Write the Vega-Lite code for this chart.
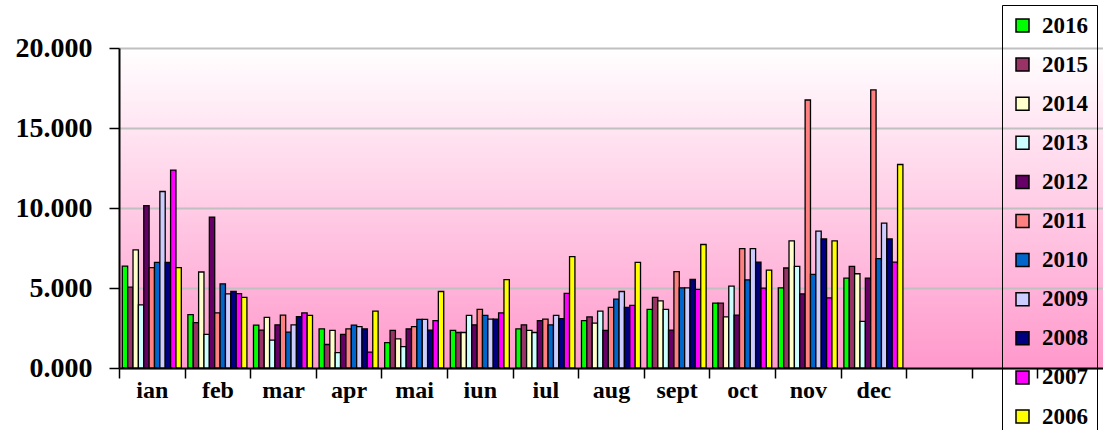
{
  "$schema": "https://vega.github.io/schema/vega-lite/v6.json",
  "width": 984,
  "height": 320,
  "autosize": {"type": "none"},
  "padding": {"left": 119, "top": 48, "right": 0, "bottom": 62},
  "background": "white",
  "view": {
    "stroke": null,
    "fill": {"gradient": "linear", "x1": 0, "y1": 0, "x2": 0, "y2": 1,
      "stops": [{"offset": 0, "color": "#ffffff"}, {"offset": 1, "color": "#ff99cc"}]}
  },
  "config": {"font": "Liberation Serif"},
  "data": {"values": [
    {"m":"ian","yr":"2016","v":6.37},{"m":"ian","yr":"2015","v":5.05},{"m":"ian","yr":"2014","v":7.38},{"m":"ian","yr":"2013","v":3.94},{"m":"ian","yr":"2012","v":10.15},{"m":"ian","yr":"2011","v":6.27},{"m":"ian","yr":"2010","v":6.6},{"m":"ian","yr":"2009","v":11.03},{"m":"ian","yr":"2008","v":6.6},{"m":"ian","yr":"2007","v":12.37},{"m":"ian","yr":"2006","v":6.27},
    {"m":"feb","yr":"2016","v":3.33},{"m":"feb","yr":"2015","v":2.83},{"m":"feb","yr":"2014","v":6.0},{"m":"feb","yr":"2013","v":2.1},{"m":"feb","yr":"2012","v":9.43},{"m":"feb","yr":"2011","v":3.44},{"m":"feb","yr":"2010","v":5.26},{"m":"feb","yr":"2009","v":4.63},{"m":"feb","yr":"2008","v":4.78},{"m":"feb","yr":"2007","v":4.65},{"m":"feb","yr":"2006","v":4.42},
    {"m":"mar","yr":"2016","v":2.68},{"m":"mar","yr":"2015","v":2.37},{"m":"mar","yr":"2014","v":3.17},{"m":"mar","yr":"2013","v":1.74},{"m":"mar","yr":"2012","v":2.7},{"m":"mar","yr":"2011","v":3.31},{"m":"mar","yr":"2010","v":2.24},{"m":"mar","yr":"2009","v":2.7},{"m":"mar","yr":"2008","v":3.21},{"m":"mar","yr":"2007","v":3.44},{"m":"mar","yr":"2006","v":3.29},
    {"m":"apr","yr":"2016","v":2.45},{"m":"apr","yr":"2015","v":1.47},{"m":"apr","yr":"2014","v":2.35},{"m":"apr","yr":"2013","v":0.96},{"m":"apr","yr":"2012","v":2.1},{"m":"apr","yr":"2011","v":2.45},{"m":"apr","yr":"2010","v":2.68},{"m":"apr","yr":"2009","v":2.58},{"m":"apr","yr":"2008","v":2.45},{"m":"apr","yr":"2007","v":0.99},{"m":"apr","yr":"2006","v":3.56},
    {"m":"mai","yr":"2016","v":1.59},{"m":"mai","yr":"2015","v":2.35},{"m":"mai","yr":"2014","v":1.82},{"m":"mai","yr":"2013","v":1.34},{"m":"mai","yr":"2012","v":2.45},{"m":"mai","yr":"2011","v":2.58},{"m":"mai","yr":"2010","v":3.04},{"m":"mai","yr":"2009","v":3.04},{"m":"mai","yr":"2008","v":2.37},{"m":"mai","yr":"2007","v":2.96},{"m":"mai","yr":"2006","v":4.78},
    {"m":"iun","yr":"2016","v":2.35},{"m":"iun","yr":"2015","v":2.22},{"m":"iun","yr":"2014","v":2.22},{"m":"iun","yr":"2013","v":3.29},{"m":"iun","yr":"2012","v":2.7},{"m":"iun","yr":"2011","v":3.67},{"m":"iun","yr":"2010","v":3.29},{"m":"iun","yr":"2009","v":3.06},{"m":"iun","yr":"2008","v":3.06},{"m":"iun","yr":"2007","v":3.44},{"m":"iun","yr":"2006","v":5.52},
    {"m":"iul","yr":"2016","v":2.45},{"m":"iul","yr":"2015","v":2.7},{"m":"iul","yr":"2014","v":2.35},{"m":"iul","yr":"2013","v":2.22},{"m":"iul","yr":"2012","v":2.96},{"m":"iul","yr":"2011","v":3.06},{"m":"iul","yr":"2010","v":2.7},{"m":"iul","yr":"2009","v":3.29},{"m":"iul","yr":"2008","v":3.08},{"m":"iul","yr":"2007","v":4.67},{"m":"iul","yr":"2006","v":6.96},
    {"m":"aug","yr":"2016","v":2.96},{"m":"aug","yr":"2015","v":3.19},{"m":"aug","yr":"2014","v":2.81},{"m":"aug","yr":"2013","v":3.56},{"m":"aug","yr":"2012","v":2.35},{"m":"aug","yr":"2011","v":3.79},{"m":"aug","yr":"2010","v":4.3},{"m":"aug","yr":"2009","v":4.78},{"m":"aug","yr":"2008","v":3.79},{"m":"aug","yr":"2007","v":3.92},{"m":"aug","yr":"2006","v":6.6},
    {"m":"sept","yr":"2016","v":3.67},{"m":"sept","yr":"2015","v":4.42},{"m":"sept","yr":"2014","v":4.19},{"m":"sept","yr":"2013","v":3.67},{"m":"sept","yr":"2012","v":2.37},{"m":"sept","yr":"2011","v":6.02},{"m":"sept","yr":"2010","v":5.01},{"m":"sept","yr":"2009","v":5.01},{"m":"sept","yr":"2008","v":5.53},{"m":"sept","yr":"2007","v":4.91},{"m":"sept","yr":"2006","v":7.72},
    {"m":"oct","yr":"2016","v":4.05},{"m":"oct","yr":"2015","v":4.05},{"m":"oct","yr":"2014","v":3.19},{"m":"oct","yr":"2013","v":5.12},{"m":"oct","yr":"2012","v":3.31},{"m":"oct","yr":"2011","v":7.46},{"m":"oct","yr":"2010","v":5.51},{"m":"oct","yr":"2009","v":7.46},{"m":"oct","yr":"2008","v":6.62},{"m":"oct","yr":"2007","v":4.99},{"m":"oct","yr":"2006","v":6.12},
    {"m":"nov","yr":"2016","v":5.01},{"m":"nov","yr":"2015","v":6.25},{"m":"nov","yr":"2014","v":7.94},{"m":"nov","yr":"2013","v":6.35},{"m":"nov","yr":"2012","v":4.63},{"m":"nov","yr":"2011","v":16.75},{"m":"nov","yr":"2010","v":5.85},{"m":"nov","yr":"2009","v":8.55},{"m":"nov","yr":"2008","v":8.07},{"m":"nov","yr":"2007","v":4.38},{"m":"nov","yr":"2006","v":7.94},
    {"m":"dec","yr":"2016","v":5.62},{"m":"dec","yr":"2015","v":6.35},{"m":"dec","yr":"2014","v":5.89},{"m":"dec","yr":"2013","v":2.91},{"m":"dec","yr":"2012","v":5.62},{"m":"dec","yr":"2011","v":17.38},{"m":"dec","yr":"2010","v":6.84},{"m":"dec","yr":"2009","v":9.06},{"m":"dec","yr":"2008","v":8.07},{"m":"dec","yr":"2007","v":6.62},{"m":"dec","yr":"2006","v":12.72}
  ]},
  "mark": {"type": "bar", "stroke": "black", "strokeWidth": 1.3},
  "encoding": {
    "x": {
      "field": "m", "type": "nominal",
      "scale": {"domain": ["ian","feb","mar","apr","mai","iun","iul","aug","sept","oct","nov","dec"," ","  ","   "], "paddingInner": 0.1, "paddingOuter": 0.05},
      "axis": {
        "title": null, "labelAngle": 0, "labelFontSize": 24, "labelFontWeight": "bold", "labelColor": "black",
        "labelPadding": 0, "tickSize": 10, "tickColor": "black", "tickWidth": 1.5,
        "tickOffset": -32.8, "labelOffset": 32.8,
        "domainColor": "black", "domainWidth": 2, "grid": false
      }
    },
    "xOffset": {
      "field": "yr", "type": "nominal",
      "scale": {"domain": ["2016","2015","2014","2013","2012","2011","2010","2009","2008","2007","2006"], "paddingInner": 0, "paddingOuter": 0}
    },
    "y": {
      "field": "v", "type": "quantitative",
      "scale": {"domain": [0, 20], "nice": false},
      "axis": {
        "title": null, "values": [0, 5, 10, 15, 20], "format": ".3f",
        "labelFontSize": 28, "labelFontWeight": "bold", "labelColor": "black", "labelPadding": 17,
        "tickSize": 10, "tickColor": "black", "tickWidth": 1.5,
        "domainColor": "black", "domainWidth": 2,
        "grid": true, "gridColor": "#c0c0c0", "gridWidth": 2
      }
    },
    "color": {
      "field": "yr", "type": "nominal",
      "scale": {
        "domain": ["2016","2015","2014","2013","2012","2011","2010","2009","2008","2007","2006"],
        "range": ["#00ff00","#993366","#ffffcc","#ccffff","#660066","#ff8080","#0066cc","#ccccff","#000080","#ff00ff","#ffff00"]
      },
      "legend": {
        "title": null, "orient": "none", "legendX": 883, "legendY": -43,
        "strokeColor": "black", "padding": 9,
        "symbolType": "square", "symbolSize": 169, "symbolStrokeColor": "black", "symbolStrokeWidth": 1.5, "symbolOpacity": 1,
        "labelFontSize": 23, "labelFontWeight": "bold", "labelColor": "black", "labelOffset": 8,
        "rowPadding": 15.1
      }
    }
  }
}
